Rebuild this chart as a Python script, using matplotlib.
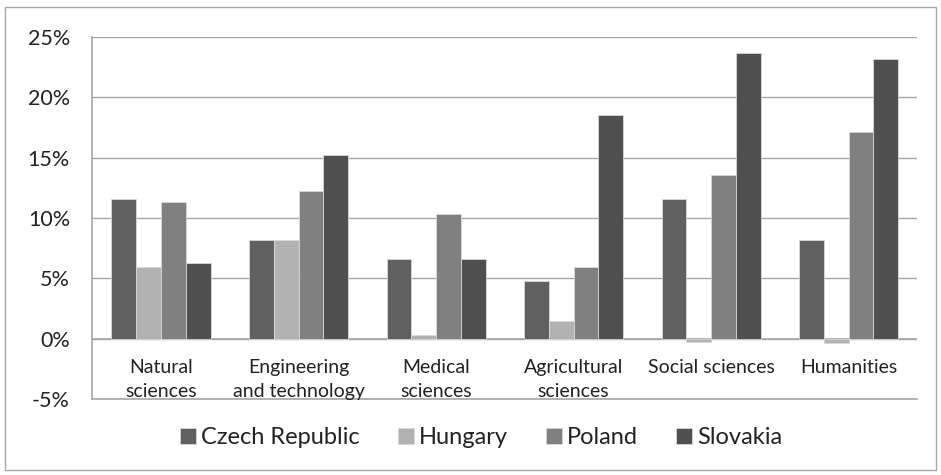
import numpy as np
import matplotlib
matplotlib.use("Agg")
import matplotlib.pyplot as plt
from matplotlib.patches import Rectangle
from matplotlib.ticker import FuncFormatter

plt.rcParams['font.family'] = ['Lato', 'DejaVu Sans']

categories = ["Natural\nsciences", "Engineering\nand technology", "Medical\nsciences",
              "Agricultural\nsciences", "Social sciences", "Humanities"]
countries = ["Czech Republic", "Hungary", "Poland", "Slovakia"]

czech = [11.6, 8.2, 6.6, 4.8, 11.6, 8.2]
hungary = [5.9, 8.2, 0.3, 1.5, -0.25, -0.35]
poland = [11.3, 12.2, 10.3, 5.9, 13.6, 17.1]
slovakia = [6.3, 15.2, 6.6, 18.5, 23.7, 23.2]

colors = ["#606060", "#b2b2b2", "#808080", "#505050"]

fig = plt.figure(figsize=(9.41, 4.75), dpi=100)
ax = fig.add_axes([0.098, 0.16, 0.877, 0.762])

x = np.arange(len(categories))
w = 0.18
for k, vals in enumerate([czech, hungary, poland, slovakia]):
    ax.bar(x + (k - 1.5) * w, vals, w, color=colors[k], edgecolor="#d8d8d8",
           linewidth=0.6, label=countries[k], zorder=3)

ax.set_xlim(-0.5, len(categories) - 0.5)
ax.set_ylim(-5, 25)
ax.set_yticks(np.arange(-5, 26, 5))
ax.yaxis.set_major_formatter(FuncFormatter(lambda v, p: f"{v:.0f}%"))
ax.grid(axis="y", color="#a6a6a6", linewidth=1.0, zorder=0)
ax.axhline(0, color="#a6a6a6", linewidth=1.2, zorder=2)
ax.set_xticks([])
ax.tick_params(axis="y", length=0, pad=16, labelsize=15.5, labelcolor="#222222")

for s in ["top", "right"]:
    ax.spines[s].set_visible(False)
for s in ["left", "bottom"]:
    ax.spines[s].set_color("#a6a6a6")
    ax.spines[s].set_linewidth(1.2)

for i, c in enumerate(categories):
    ax.text(i, -1.65, c, ha="center", va="top", fontsize=14, color="#222222",
            linespacing=1.55)

ax.legend(loc="center", bbox_to_anchor=(0.471, -0.107), ncol=4, frameon=False,
          fontsize=17, handlelength=0.7, handleheight=0.7, handletextpad=0.2,
          columnspacing=1.6, labelcolor="#222222")

fig.add_artist(Rectangle((0.005, 0.01), 0.99, 0.975, transform=fig.transFigure,
                         fill=False, edgecolor="#a6a6a6", linewidth=1.0))

fig.savefig("out.png", dpi=100)
